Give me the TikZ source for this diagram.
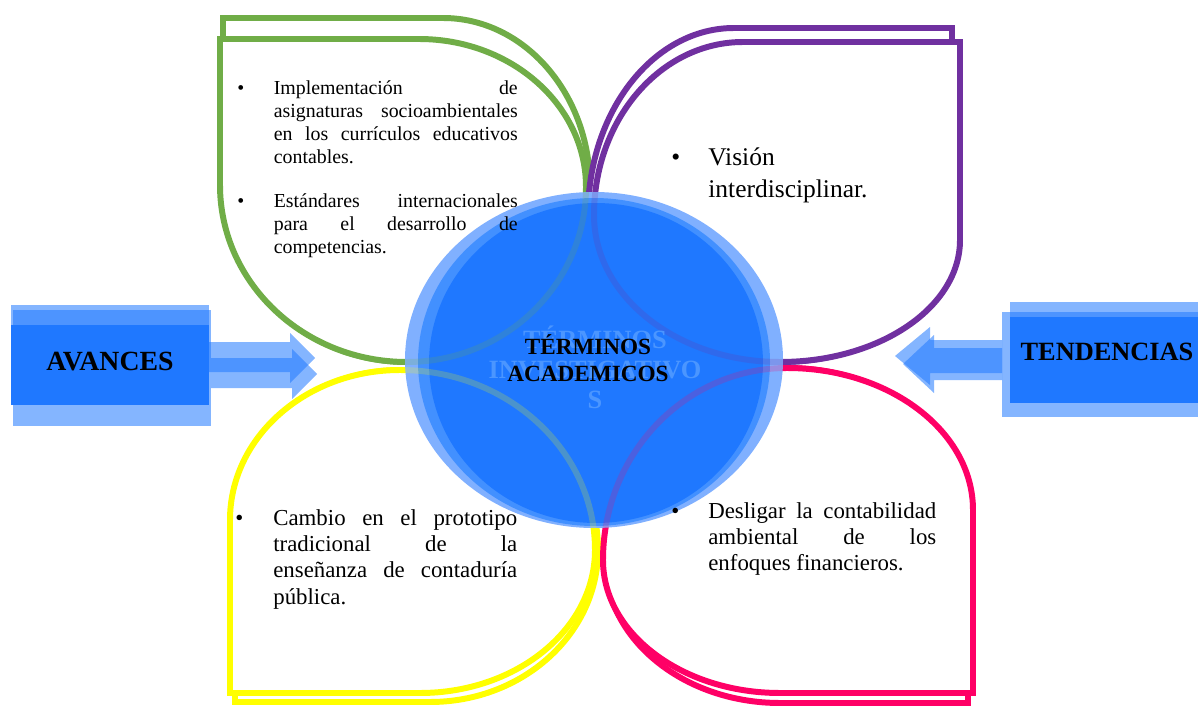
\documentclass[tikz,border=0pt]{standalone}
\usepackage{fontspec}
\setmainfont{Liberation Serif}
\usetikzlibrary{shapes.geometric}

\definecolor{petalgreen}{RGB}{112,173,71}
\definecolor{petalpurple}{RGB}{112,48,160}
\definecolor{petalyellow}{RGB}{255,255,0}
\definecolor{petalpink}{RGB}{255,0,102}
\definecolor{boxblue}{RGB}{31,120,255}
\definecolor{ringlight}{RGB}{128,176,255}
\definecolor{ringmid}{RGB}{66,144,255}
\definecolor{ghostblue}{RGB}{75,150,255}

% petal outlines (back copy, front copy)
\newcommand{\greenback}{(223,18) -- (443,18)
    arc[start angle=270, end angle=360, x radius=147, y radius=169]
    arc[start angle=0, end angle=90, x radius=183, y radius=175]
    arc[start angle=90, end angle=180, x radius=184, y radius=177] -- cycle}
\newcommand{\greenfront}{(220,39) -- (419,39)
    arc[start angle=270, end angle=360, x radius=167, y radius=148]
    arc[start angle=0, end angle=90, x radius=179, y radius=175]
    arc[start angle=90, end angle=180, x radius=187, y radius=177] -- cycle}
\newcommand{\purpleback}{(952,28) -- (734,28)
    arc[start angle=270, end angle=180, x radius=146, y radius=187]
    arc[start angle=180, end angle=90, x radius=192, y radius=147]
    arc[start angle=90, end angle=0, x radius=172, y radius=122] -- cycle}
\newcommand{\purplefront}{(960,42) -- (743,42)
    arc[start angle=270, end angle=180, x radius=149, y radius=173]
    arc[start angle=180, end angle=90, x radius=186, y radius=147]
    arc[start angle=90, end angle=0, x radius=180, y radius=122] -- cycle}
\newcommand{\yellowback}{(235,702) -- (430,702)
    arc[start angle=90, end angle=0, x radius=168, y radius=152]
    arc[start angle=0, end angle=-90, x radius=198, y radius=180]
    arc[start angle=270, end angle=180, x radius=165, y radius=150] -- cycle}
\newcommand{\yellowfront}{(230,693) -- (230,520)
    arc[start angle=180, end angle=270, x radius=170, y radius=150]
    arc[start angle=270, end angle=360, x radius=195, y radius=180]
    arc[start angle=0, end angle=90, x radius=175, y radius=143] -- cycle}
\newcommand{\pinkback}{(968,703) -- (780,703)
    arc[start angle=90, end angle=180, x radius=175, y radius=143]
    arc[start angle=180, end angle=270, x radius=182, y radius=192]
    arc[start angle=270, end angle=360, x radius=181, y radius=142] -- cycle}
\newcommand{\pinkfront}{(973,693) -- (973,510)
    arc[start angle=0, end angle=-90, x radius=186, y radius=142]
    arc[start angle=-90, end angle=-180, x radius=184, y radius=192]
    arc[start angle=180, end angle=90, x radius=177, y radius=133] -- cycle}

\tikzset{
  petal/.style={line width=3.4pt, fill=white},
  petalline/.style={line width=3.4pt, draw opacity=0.2},
  layer/.style={fill=boxblue, fill opacity=0.55},
  hub/.style={ellipse, fill=boxblue, inner sep=0pt,
    minimum width=6.68cm, minimum height=6.4cm},
  blocktext/.style={inner sep=0pt, font=\fontsize{15.8}{18}\selectfont\bfseries},
  itemtext/.style={inner sep=0pt, anchor=base west},
}

\begin{document}
\begin{tikzpicture}[x=0.02cm, y=-0.02cm]
  \useasboundingbox (0,0) rectangle (1198,706);

  % petals, back copy first
  \draw[petal, draw=petalgreen] \greenback;
  \draw[petal, draw=petalgreen] \greenfront;
  \draw[petal, draw=petalpurple] \purpleback;
  \draw[petal, draw=petalpurple] \purplefront;
  \draw[petal, draw=petalyellow] \yellowback;
  \draw[petal, draw=petalyellow] \yellowfront;
  \draw[petal, draw=petalpink] \pinkback;
  \draw[petal, draw=petalpink] \pinkfront;

  % central circle
  \fill[ringlight] (594,360) ellipse [x radius=189, y radius=168];
  \fill[ringmid] (594,362) ellipse [x radius=176, y radius=164];
  \node[hub] (hub) at (596,363) {};
  \begin{scope}
    \clip (594,360) ellipse [x radius=189, y radius=168];
    \draw[petalline, draw=petalgreen] \greenfront;
    \draw[petalline, draw=petalpurple] \purplefront;
    \draw[petalline, draw=petalyellow] \yellowfront;
    \draw[petalline, draw=petalpink] \pinkfront;
  \end{scope}
  \node[inner sep=0pt, align=center, text=ghostblue,
    font=\fontsize{15}{17}\selectfont\bfseries] (ghost) at (595,367)
    {TÉRMINOS\\INVESTIGATIVO\\S};
  \node[inner sep=0pt, align=center,
    font=\fontsize{13.2}{15.3}\selectfont\bfseries] (hubtext) at (588,358)
    {TÉRMINOS\\ACADEMICOS};

  % avances
  \fill[layer] (11,305) rectangle (209,400);
  \fill[layer] (13,310) rectangle (211,426);
  \fill[boxblue] (11,325) rectangle (209,405);
  \fill[layer] (209,342) -- (290,342) -- (290,333) -- (315,358) -- (290,383) -- (290,372) -- (209,372) -- cycle;
  \fill[layer] (211,358) -- (292,358) -- (292,349) -- (317,374) -- (292,399) -- (292,388) -- (211,388) -- cycle;
  \node[blocktext] (avances) at (110,362) {AVANCES};

  % tendencias
  \fill[layer] (1010,302) rectangle (1198,403);
  \fill[layer] (1002,312) rectangle (1198,417);
  \fill[boxblue] (1010,317) rectangle (1198,403);
  \fill[layer] (1002,340) -- (930,340) -- (930,327) -- (895,356) -- (930,385) -- (930,373) -- (1002,373) -- cycle;
  \fill[layer] (1002,348) -- (934,348) -- (934,335) -- (903,364) -- (934,393) -- (934,380) -- (1002,380) -- cycle;
  \node[blocktext, font=\fontsize{15}{18}\selectfont\bfseries] (tendencias) at (1107,352) {TENDENCIAS};

  % bullet texts
  \node[itemtext, font=\fontsize{11.3}{13}\selectfont] (avance1) at (237,95)
    {\makebox[0.73cm][l]{\textbullet}\parbox[t]{4.88cm}{Implementación\hfill de\\
     asignaturas\hfill socioambientales\\en\hfill los\hfill currículos\hfill educativos\\contables.}};
  \node[itemtext, font=\fontsize{11.3}{13}\selectfont] (avance2) at (237,208)
    {\makebox[0.73cm][l]{\textbullet}\parbox[t]{4.88cm}{Estándares\hfill internacionales\\
     para\hfill el\hfill desarrollo\hfill de\\competencias.}};
  \node[itemtext, font=\fontsize{14.5}{18}\selectfont] (tendencia1) at (671,166)
    {\makebox[0.74cm][l]{\textbullet}\parbox[t]{4.6cm}{Visión\\interdisciplinar.}};
  \node[itemtext, font=\fontsize{13}{15}\selectfont] (avance3) at (235,525)
    {\makebox[0.76cm][l]{\textbullet}\parbox[t]{4.88cm}{Cambio\hfill en\hfill el\hfill prototipo\\
     tradicional\hfill de\hfill la\\enseñanza\hfill de\hfill contaduría\\pública.}};
  \node[itemtext, font=\fontsize{13}{15}\selectfont] (tendencia2) at (671,518)
    {\makebox[0.74cm][l]{\textbullet}\parbox[t]{4.56cm}{Desligar\hfill la\hfill contabilidad\\
     ambiental\hfill de\hfill los\\enfoques financieros.}};
\end{tikzpicture}
\end{document}
